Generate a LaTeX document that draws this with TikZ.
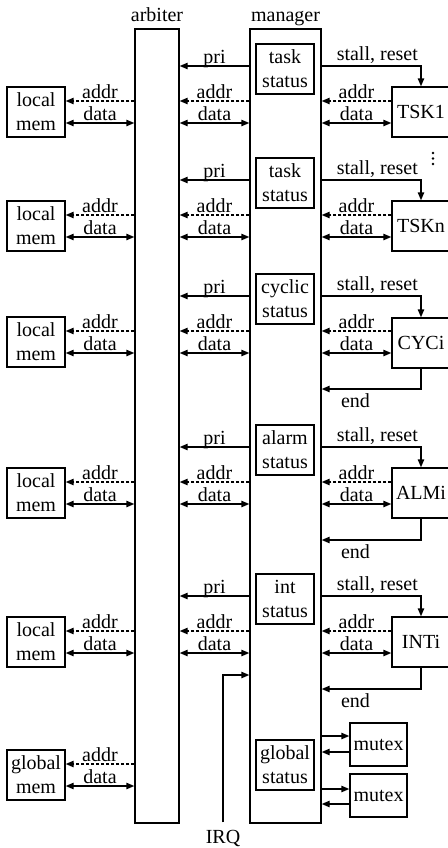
\documentclass[tikz,border=0pt]{standalone}
\usepackage{fontspec}
\setmainfont{Liberation Serif}
\usetikzlibrary{arrows.meta}
\begin{document}
\begin{tikzpicture}[x=0.5pt, y=-0.5pt, line width=0.7pt,
  box/.style={draw, inner sep=0pt, minimum width=29pt, minimum height=25pt, align=center},
  mutexbox/.style={draw, inner sep=0pt, minimum width=28.5pt, minimum height=21.5pt},
  bus/.style={draw, inner sep=0pt},
  sig/.style={-{Triangle[length=4pt,width=3.2pt]}},
  addrline/.style={sig, dash pattern=on 1.5pt off 1pt},
  dataline/.style={{Triangle[length=4pt,width=3.2pt]}-{Triangle[length=4pt,width=3.2pt]}},
  lbl/.style={above, inner sep=1pt},
  lblb/.style={below, inner sep=2pt}]
\useasboundingbox (0,0) rectangle (448,848);

% the two main blocks
\node[bus, minimum width=22pt, minimum height=397pt] (arb) at (157,426) {};
\node[bus, minimum width=35.5pt, minimum height=397pt] (mgr) at (285.5,426) {};
\node[anchor=base] (arblbl) at (157,21) {arbiter};
\node[anchor=base] (mgrlbl) at (285.5,21) {manager};

% memories
\node[box] (mem1) at (36,112) {local\\mem};
\node[box] (mem2) at (36,226) {local\\mem};
\node[box] (mem3) at (36,342) {local\\mem};
\node[box] (mem4) at (36,493) {local\\mem};
\node[box] (mem5) at (36,642) {local\\mem};
\node[box] (gmem) at (36,775) {global\\mem};

% status registers inside the manager
\node[box] (st1) at (285,69) {task\\status};
\node[box] (st2) at (285,183) {task\\status};
\node[box] (st3) at (285,299) {cyclic\\status};
\node[box] (st4) at (285,450) {alarm\\status};
\node[box] (st5) at (285,599) {int\\status};
\node[box] (gst) at (285,765) {global\\status};

% controlled units
\node[box] (unit1) at (421,112) {TSK1};
\node[box] (unit2) at (421,226) {TSKn};
\node[box] (unit3) at (421,343) {CYCi};
\node[box] (unit4) at (421,493) {ALMi};
\node[box] (unit5) at (421,642) {INTi};
\node[mutexbox] (mutex1) at (378.5,744.5) {mutex};
\node[mutexbox] (mutex2) at (378.5,795.5) {mutex};

% row heights of the signal groups
\foreach \g/\P in {1/66, 2/180, 3/296, 4/447, 5/596} {
  \coordinate (pri\g) at (0,\P);
  \coordinate (adr\g) at (0,\P+35);
  \coordinate (dat\g) at (0,\P+57);
  \coordinate (end\g) at (0,\P+93);
}

\foreach \g in {1,...,5} {
  \draw[addrline] (arb.west |- adr\g) -- node[lbl]{addr} (mem\g.east |- adr\g);
  \draw[dataline] (mem\g.east |- dat\g) -- node[lbl]{data} (arb.west |- dat\g);
  \draw[sig] (mgr.west |- pri\g) -- node[lbl, text depth=0pt]{pri} (arb.east |- pri\g);
  \draw[addrline] (mgr.west |- adr\g) -- node[lbl]{addr} (arb.east |- adr\g);
  \draw[dataline] (arb.east |- dat\g) -- node[lbl]{data} (mgr.west |- dat\g);
  \draw[addrline] (unit\g.west |- adr\g) -- node[lbl]{addr} (mgr.east |- adr\g);
  \draw[dataline] (mgr.east |- dat\g) -- node[lbl]{data} (unit\g.west |- dat\g);
  \draw[sig] (mgr.east |- pri\g) -| node[lbl, pos=0.28]{stall, reset} (unit\g.north);
}
\foreach \g in {3,4,5} {
  \draw[sig] (unit\g.south) |- node[lblb, pos=0.83]{end} (mgr.east |- end\g);
}

% global memory
\coordinate (gadr) at (0,764);
\coordinate (gdat) at (0,786);
\draw[addrline] (arb.west |- gadr) -- node[lbl]{addr} (gmem.east |- gadr);
\draw[dataline] (gmem.east |- gdat) -- node[lbl]{data} (arb.west |- gdat);

% mutexes
\coordinate (m1o) at (0,736);
\coordinate (m1i) at (0,752);
\coordinate (m2o) at (0,789);
\coordinate (m2i) at (0,804);
\draw[sig] (mgr.east |- m1o) -- (mutex1.west |- m1o);
\draw[sig] (mutex1.west |- m1i) -- (mgr.east |- m1i);
\draw[sig] (mgr.east |- m2o) -- (mutex2.west |- m2o);
\draw[sig] (mutex2.west |- m2i) -- (mgr.east |- m2i);

% interrupt request
\node[anchor=base] (irq) at (223,843) {IRQ};
\coordinate (irqturn) at (223,675);
\draw[sig] (irq.north) -- (irqturn) -- (mgr.west |- irqturn);

% more task units follow
\foreach \d in {153,158.5,164} \fill (433,\d) circle (1.4);
\end{tikzpicture}
\end{document}
